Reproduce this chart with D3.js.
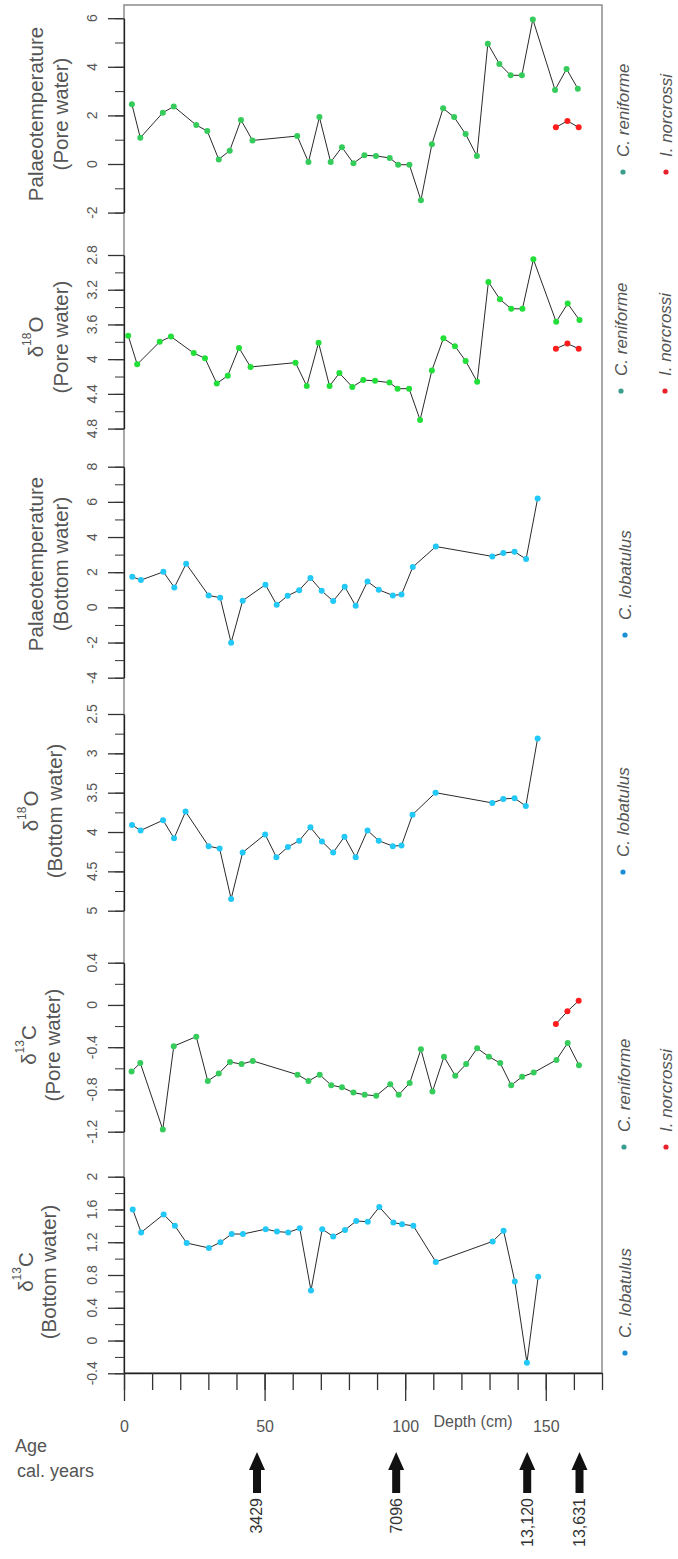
<!DOCTYPE html>
<html>
<head>
<meta charset="utf-8">
<script src="https://cdn.jsdelivr.net/npm/d3@7"></script>
<style>
  body { margin: 0; background: #fff; }
  svg { display: block; font-family: "Liberation Sans", Arial, sans-serif; }
  .tick-label { fill: #555; font-size: 14px; }
  .axis-title { fill: #555; font-size: 20.5px; }
  .legend-text { fill: #555; font-size: 17px; font-style: italic; }
  .series-line { fill: none; stroke: #2a2a2a; stroke-width: 1; }
</style>
</head>
<body>
<svg id="chart" width="678" height="1559"></svg>
<script>
// ---- data ----
const DEPTH_PT_PORE = [2.8, 5.8, 13.8, 17.7, 25.7, 29.6, 33.7, 37.6, 41.6, 45.7, 61.6, 65.6, 69.5, 73.5, 77.5, 81.6, 85.5, 89.6, 94.5, 97.5, 101.5, 105.6, 109.5, 113.5, 117.4, 121.5, 125.5, 129.4, 133.5, 137.5, 141.5, 145.4, 153.3, 157.4, 161.4];
const PT_PORE_RENIFORME = [2.46, 1.08, 2.11, 2.37, 1.6, 1.36, 0.19, 0.55, 1.81, 0.97, 1.15, 0.08, 1.93, 0.08, 0.69, 0.03, 0.36, 0.33, 0.25, -0.03, -0.03, -1.49, 0.81, 2.29, 1.93, 1.23, 0.33, 4.95, 4.12, 3.65, 3.65, 5.95, 3.05, 3.91, 3.1];

const DEPTH_O_PORE = [1.5, 4.7, 12.7, 16.7, 24.8, 28.8, 33, 36.9, 40.9, 45, 61, 65, 69.2, 73.1, 76.6, 81.2, 85.1, 89.3, 94.4, 97.3, 101.4, 105.3, 109.5, 113.6, 117.7, 121.5, 125.6, 129.6, 133.7, 137.7, 141.7, 145.6, 153.7, 157.8, 162];
const O_PORE_RENIFORME = [3.73, 4.06, 3.80, 3.74, 3.93, 3.99, 4.28, 4.19, 3.87, 4.09, 4.04, 4.31, 3.81, 4.31, 4.16, 4.32, 4.24, 4.25, 4.27, 4.34, 4.34, 4.70, 4.13, 3.76, 3.85, 4.02, 4.26, 3.11, 3.31, 3.42, 3.42, 2.85, 3.57, 3.36, 3.55];

const DEPTH_PT_BOTTOM = [2.95, 6, 14, 17.9, 22.1, 30.1, 34.2, 38.1, 42.2, 50.3, 54.3, 58.2, 62.3, 66.3, 70.3, 74.4, 78.5, 82.4, 86.6, 90.6, 95.6, 98.7, 102.7, 110.9, 131, 134.9, 138.9, 143, 147.1];
const PT_BOTTOM_LOBATULUS = [1.74, 1.55, 2.02, 1.13, 2.48, 0.68, 0.55, -2.01, 0.38, 1.29, 0.15, 0.66, 0.98, 1.67, 0.94, 0.36, 1.17, 0.09, 1.47, 1.0, 0.68, 0.73, 2.29, 3.46, 2.9, 3.09, 3.16, 2.75, 6.19];

const DEPTH_O_BOTTOM = [2.85, 5.9, 13.9, 17.8, 21.9, 30.1, 34, 38.1, 42.2, 50.2, 54.2, 58.3, 62.3, 66.3, 70.4, 74.4, 78.4, 82.4, 86.6, 90.6, 95.6, 98.7, 102.6, 110.8, 131, 134.9, 138.9, 142.9, 147.1];
const O_BOTTOM_LOBATULUS = [3.91, 3.98, 3.85, 4.08, 3.74, 4.18, 4.21, 4.85, 4.26, 4.03, 4.32, 4.19, 4.11, 3.94, 4.12, 4.26, 4.06, 4.32, 3.98, 4.11, 4.18, 4.17, 3.78, 3.50, 3.63, 3.58, 3.57, 3.67, 2.81];

const DEPTH_C_PORE = [2.7, 5.8, 13.8, 17.7, 25.7, 29.8, 33.7, 37.7, 41.8, 45.8, 61.7, 65.6, 69.6, 73.7, 77.5, 81.6, 85.6, 89.7, 94.7, 97.7, 101.6, 105.6, 109.7, 113.8, 117.8, 121.7, 125.6, 129.8, 133.8, 137.7, 141.6, 145.7, 153.8, 157.8, 161.8];
const C_PORE_RENIFORME = [-0.63, -0.55, -1.18, -0.39, -0.30, -0.72, -0.65, -0.54, -0.56, -0.53, -0.66, -0.72, -0.66, -0.76, -0.78, -0.83, -0.85, -0.86, -0.75, -0.85, -0.74, -0.42, -0.82, -0.49, -0.67, -0.56, -0.41, -0.49, -0.55, -0.76, -0.68, -0.64, -0.52, -0.36, -0.57];

const DEPTH_C_BOTTOM = [3.1, 6.1, 14.1, 18.1, 22.3, 30.2, 34.3, 38.3, 42.3, 50.4, 54.4, 58.4, 62.5, 66.5, 70.5, 74.4, 78.6, 82.6, 86.7, 90.8, 95.8, 98.9, 102.9, 110.9, 131.1, 135, 139, 143.3, 147.3];
const C_BOTTOM_LOBATULUS = [1.60, 1.32, 1.54, 1.40, 1.19, 1.13, 1.20, 1.30, 1.30, 1.36, 1.33, 1.32, 1.37, 0.61, 1.36, 1.27, 1.35, 1.46, 1.45, 1.63, 1.44, 1.42, 1.40, 0.96, 1.21, 1.34, 0.72, -0.27, 0.78];

// I. norcrossi (three deepest samples)
const DEPTH_NORCROSSI = [153.6, 157.7, 161.7];
const PT_PORE_NORCROSSI = [1.51, 1.77, 1.51];
const O_PORE_NORCROSSI = [3.88, 3.82, 3.88];
const C_PORE_NORCROSSI = [-0.18, -0.06, 0.04];

// tick values
const DEPTH_TICKS = d3.range(0, 171, 10);
const DEPTH_LABELS = [0, 50, 100, 150];
const PT_PORE_TICKS = [-2, 0, 2, 4, 6];
const O_PORE_TICKS = [2.8, 3.2, 3.6, 4, 4.4, 4.8];
const PT_BOTTOM_TICKS = [-4, -2, 0, 2, 4, 6, 8];
const O_BOTTOM_TICKS = [2.5, 3, 3.5, 4, 4.5, 5];
const C_PORE_TICKS = [-1.2, -0.8, -0.4, 0, 0.4];
const C_BOTTOM_TICKS = [-0.4, 0, 0.4, 0.8, 1.2, 1.6, 2];

// radiocarbon ages
const AGE_DEPTHS = [47.3, 96.8, 143.4, 162];
const AGE_LABELS = ["3429", "7096", "13,120", "13,631"];

// ---- layout ----
const svg = d3.select("#chart");
const frame = { left: 124, right: 602, top: 5, bottom: 1373 };
const x = d3.scaleLinear().domain([0, 170]).range([frame.left, frame.right]);

const GREEN = "#36cc5c";
const GREEN2 = "#22df3a";
const BLUE = "#22c8f6";
const RED = "#ff1c1c";

const panels = [
  {
    title: ["Palaeotemperature", "(Pore water)"], titleY: 114, titleX: [35, 60],
    y: d3.scaleLinear().domain([-2, 6]).range([212.6, 18.2]),
    ticks: PT_PORE_TICKS, minorStep: 1, legendY: 172,
    series: [
      { depth: DEPTH_PT_PORE, values: PT_PORE_RENIFORME, color: GREEN },
      { depth: DEPTH_NORCROSSI, values: PT_PORE_NORCROSSI, color: RED }
    ],
    legend: [{ text: "C. reniforme", color: "#3a9e8c", x: 623 }, { text: "I. norcrossi", color: "#e8202a", x: 666 }]
  },
  {
    title: ["δ", "(Pore water)"], titleY: 337, titleX: [35, 60],
    y: d3.scaleLinear().domain([2.8, 4.8]).range([255, 428.6]),
    ticks: O_PORE_TICKS, minorStep: 0.2, legendY: 391, iso: ["18", "O"],
    series: [
      { depth: DEPTH_O_PORE, values: O_PORE_RENIFORME, color: GREEN2 },
      { depth: DEPTH_NORCROSSI, values: O_PORE_NORCROSSI, color: RED }
    ],
    legend: [{ text: "C. reniforme", color: "#3a9e8c", x: 621 }, { text: "I. norcrossi", color: "#e8202a", x: 665 }]
  },
  {
    title: ["Palaeotemperature", "(Bottom water)"], titleY: 564, titleX: [35, 60],
    y: d3.scaleLinear().domain([-4, 8]).range([677.7, 466.7]),
    ticks: PT_BOTTOM_TICKS, minorStep: 1, legendY: 635,
    series: [{ depth: DEPTH_PT_BOTTOM, values: PT_BOTTOM_LOBATULUS, color: BLUE }],
    legend: [{ text: "C. lobatulus", color: "#1b8ed6", x: 625 }]
  },
  {
    title: ["δ", "(Bottom water)"], titleY: 811, titleX: [30, 54],
    y: d3.scaleLinear().domain([2.5, 5]).range([714, 910.7]),
    ticks: O_BOTTOM_TICKS, minorStep: 0.25, legendY: 872, iso: ["18", "O"],
    series: [{ depth: DEPTH_O_BOTTOM, values: O_BOTTOM_LOBATULUS, color: BLUE }],
    legend: [{ text: "C. lobatulus", color: "#1b8ed6", x: 623 }]
  },
  {
    title: ["δ", "(Pore water)"], titleY: 1045, titleX: [28, 52],
    y: d3.scaleLinear().domain([-1.2, 0.4]).range([1131.7, 962.7]),
    ticks: C_PORE_TICKS, minorStep: 0.2, legendY: 1147, iso: ["13", "C"],
    series: [
      { depth: DEPTH_C_PORE, values: C_PORE_RENIFORME, color: GREEN },
      { depth: DEPTH_NORCROSSI, values: C_PORE_NORCROSSI, color: RED }
    ],
    legend: [{ text: "C. reniforme", color: "#3a9e8c", x: 624 }, { text: "I. norcrossi", color: "#e8202a", x: 666 }]
  },
  {
    title: ["δ", "(Bottom water)"], titleY: 1272, titleX: [25, 48],
    y: d3.scaleLinear().domain([-0.4, 2]).range([1373.3, 1176.7]),
    ticks: C_BOTTOM_TICKS, minorStep: 0.2, legendY: 1353, iso: ["13", "C"],
    series: [{ depth: DEPTH_C_BOTTOM, values: C_BOTTOM_LOBATULUS, color: BLUE }],
    legend: [{ text: "C. lobatulus", color: "#1b8ed6", x: 625 }]
  }
];

// frame
svg.append("rect")
  .attr("x", frame.left).attr("y", frame.top)
  .attr("width", frame.right - frame.left).attr("height", frame.bottom - frame.top)
  .attr("fill", "none").attr("stroke", "#8c8c8c").attr("stroke-width", 1.5);

panels.forEach(p => {
  const g = svg.append("g");
  const [lo, hi] = p.y.domain();
  const minor = d3.range(lo, hi + p.minorStep / 2, p.minorStep).map(v => +v.toFixed(3));

  g.append("g")
    .attr("transform", `translate(${frame.left},0)`)
    .call(d3.axisLeft(p.y).tickValues(minor).tickSize(9).tickSizeOuter(0).tickFormat(""))
    .call(a => a.selectAll("line").attr("stroke", "#333"))
    .call(a => a.select(".domain").attr("stroke", "#222").attr("stroke-width", 1.3));

  g.append("g")
    .attr("transform", `translate(${frame.left},0)`)
    .call(d3.axisLeft(p.y).tickValues(p.ticks).tickSize(16).tickSizeOuter(0).tickFormat(""))
    .call(a => a.select(".domain").remove())
    .call(a => a.selectAll("line").attr("stroke", "#333").attr("stroke-width", 1.3));

  g.selectAll(".tick-label")
    .data(p.ticks)
    .join("text")
    .attr("class", "tick-label")
    .attr("transform", d => `translate(92,${p.y(d)}) rotate(-90)`)
    .attr("text-anchor", "middle")
    .attr("dominant-baseline", "central")
    .text(d => String(d));

  // axis title
  const t1 = g.append("text")
    .attr("class", "axis-title")
    .attr("transform", `translate(${p.titleX[0]},${p.titleY}) rotate(-90)`)
    .attr("text-anchor", "middle")
    .attr("dominant-baseline", "central");
  if (p.iso) {
    t1.append("tspan").text(p.title[0]);
    t1.append("tspan").attr("font-size", 12).attr("dy", -8).text(p.iso[0]);
    t1.append("tspan").attr("dy", 8).text(p.iso[1]);
  } else {
    t1.text(p.title[0]);
  }
  g.append("text")
    .attr("class", "axis-title")
    .attr("transform", `translate(${p.titleX[1]},${p.titleY}) rotate(-90)`)
    .attr("text-anchor", "middle")
    .attr("dominant-baseline", "central")
    .text(p.title[1]);

  // series
  p.series.forEach(s => {
    const pts = s.depth.map((d, i) => [d, s.values[i]]);
    const line = d3.line().x(d => x(d[0])).y(d => p.y(d[1]));
    g.append("path").attr("class", "series-line").attr("d", line(pts));
    g.selectAll(null)
      .data(pts)
      .join("circle")
      .attr("cx", d => x(d[0]))
      .attr("cy", d => p.y(d[1]))
      .attr("r", 3)
      .attr("fill", s.color);
  });

  // legend
  p.legend.forEach(l => {
    g.append("circle").attr("cx", l.x).attr("cy", p.legendY).attr("r", 2.6).attr("fill", l.color);
    g.append("text")
      .attr("class", "legend-text")
      .attr("transform", `translate(${l.x},${p.legendY - 15}) rotate(-90)`)
      .attr("dominant-baseline", "central")
      .text(l.text);
  });
});

// depth axis
const xAxis = svg.append("g").attr("transform", `translate(0,${frame.bottom})`);
xAxis.append("g")
  .call(d3.axisBottom(x).tickValues(DEPTH_TICKS).tickSize(17).tickSizeOuter(0).tickFormat(""))
  .call(a => a.select(".domain").attr("stroke", "#222").attr("stroke-width", 1.3))
  .call(a => a.selectAll("line").attr("stroke", "#333").attr("stroke-width", 1.3));
xAxis.append("g")
  .call(d3.axisBottom(x).tickValues(DEPTH_LABELS).tickSize(28).tickPadding(20).tickSizeOuter(0))
  .call(a => a.select(".domain").remove())
  .call(a => a.selectAll("line").attr("stroke", "#333").attr("stroke-width", 1.3))
  .call(a => a.selectAll("text").attr("fill", "#555").attr("font-size", 16)
    .attr("font-family", '"Liberation Sans", Arial, sans-serif'));

svg.append("text")
  .attr("x", 473).attr("y", 1421)
  .attr("text-anchor", "middle").attr("dominant-baseline", "central")
  .attr("fill", "#555").attr("font-size", 16)
  .text("Depth (cm)");

// age arrows
svg.append("text").attr("x", 15).attr("y", 1452).attr("fill", "#555").attr("font-size", 18).text("Age");
svg.append("text").attr("x", 17).attr("y", 1477).attr("fill", "#555").attr("font-size", 18).text("cal. years");

const arrow = svg.append("g");
AGE_DEPTHS.forEach((d, i) => {
  const cx = x(d);
  arrow.append("path")
    .attr("d", `M${cx},1452 L${cx + 8},1470 L${cx + 4},1470 L${cx + 4},1493 L${cx - 4},1493 L${cx - 4},1470 L${cx - 8},1470 Z`)
    .attr("fill", "#111");
  arrow.append("text")
    .attr("transform", `translate(${cx},1498) rotate(-90)`)
    .attr("text-anchor", "end")
    .attr("dominant-baseline", "central")
    .attr("fill", "#333").attr("font-size", 16)
    .text(AGE_LABELS[i]);
});
</script>
</body>
</html>
